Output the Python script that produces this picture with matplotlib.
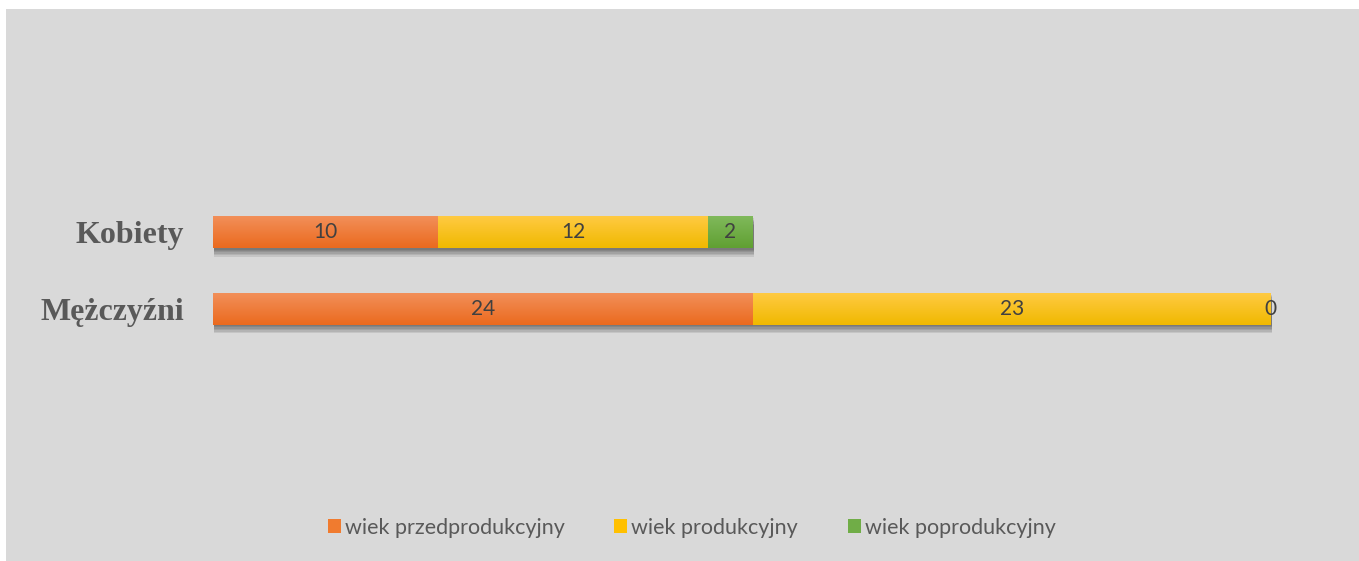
import matplotlib.pyplot as plt
import numpy as np
from matplotlib import patheffects
from matplotlib.colors import LinearSegmentedColormap
from matplotlib.patches import Patch, Rectangle

# data
categories = ["Mężczyźni", "Kobiety"]
series = ["wiek przedprodukcyjny", "wiek produkcyjny", "wiek poprodukcyjny"]
przed = [24, 10]
prod = [23, 12]
poprod = [0, 2]
values = [przed, prod, poprod]

colors = ["#F07B2F", "#FFC000", "#70AD47"]
gradients = [("#F28F59", "#EB6A1E"), ("#FFCA42", "#F0B900"), ("#80B95B", "#60A032")]

W, H = 1359, 561
fig = plt.figure(figsize=(W / 100, H / 100), dpi=100)
fig.patches.append(Rectangle((6 / W, 0), 1, 1 - 9 / H, transform=fig.transFigure,
                             facecolor="#D9D9D9", edgecolor="none", zorder=-10))

ax = fig.add_axes([213 / W, (H - 480) / H, 1125 / W, 440 / H])
ax.set_facecolor("none")

# soft drop shadow under the bars
shadow = [patheffects.SimplePatchShadow(offset=(1, -k), shadow_rgbFace="black", alpha=0.09)
          for k in (1, 2, 3, 4, 5, 6)]
shadow.append(patheffects.Normal())

y = np.arange(len(categories))
left = np.zeros(len(categories))
for vals, name, col, (c_top, c_bot) in zip(values, series, colors, gradients):
    bars = ax.barh(y, vals, left=left, height=0.41, color=col, label=name, zorder=2)
    cmap = LinearSegmentedColormap.from_list(name, [c_top, c_bot])
    for patch in bars.patches:
        x0, y0, w, h = patch.get_x(), patch.get_y(), patch.get_width(), patch.get_height()
        if w <= 0:
            continue
        patch.set_path_effects(shadow)
        ax.imshow(np.linspace(0, 1, 64).reshape(-1, 1), extent=[x0, x0 + w, y0, y0 + h],
                  cmap=cmap, aspect="auto", clip_path=patch, zorder=2.5)
    ax.bar_label(bars, labels=[str(v) for v in vals], label_type="center",
                 fontsize=15, color="#404040", family="Lato", zorder=4)
    left += np.array(vals)

ax.set_xlim(0, 50)
ax.set_ylim((309 - 480) / 76.5, (309 - 40) / 76.5)
ax.set_yticks(y)
ax.set_yticklabels(categories, family="Liberation Serif", fontweight="bold",
                   fontsize=23, color="#595959")
ax.tick_params(axis="y", length=0, pad=21)
ax.set_xticks([])
for s in ax.spines.values():
    s.set_visible(False)

handles = [Patch(facecolor=c, edgecolor="none") for c in colors]
fig.legend(handles, series, loc="center", bbox_to_anchor=(0.509, 0.059), ncol=3,
           frameon=False, handlelength=0.6, handleheight=0.6, handletextpad=0.2,
           columnspacing=2.3, prop={"family": "Lato", "size": 15.5}, labelcolor="#595959")

fig.savefig("out.png", dpi=100)
